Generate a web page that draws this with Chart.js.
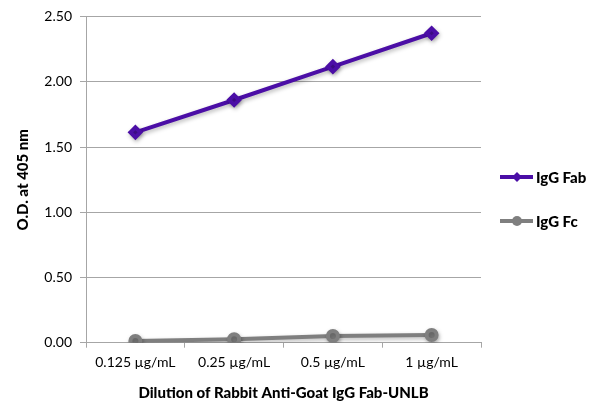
<!DOCTYPE html>
<html><head><meta charset="utf-8">
<script src="https://cdn.jsdelivr.net/npm/chart.js@4.4.0/dist/chart.umd.min.js"></script>
<style>html,body{margin:0;padding:0;background:#fff}#wrap{width:600px;height:415px;position:relative}</style>
</head><body><div id="wrap"><canvas id="c" width="600" height="415"></canvas></div>
<script>
const categories = ['0.125 µg/mL', '0.25 µg/mL', '0.5 µg/mL', '1 µg/mL'];
const fabValues = [1.613, 1.861, 2.117, 2.373];
const fcValues = [0.013, 0.026, 0.051, 0.059];
const seriesNames = ['IgG Fab', 'IgG Fc'];
const yTicks = [0, 0.5, 1.0, 1.5, 2.0, 2.5];
const FONT = "Lato, 'Open Sans', sans-serif";

const shadowPlugin = {
  id: 'lineShadow',
  beforeDatasetDraw(chart) {
    const ctx = chart.ctx;
    ctx.save();
    ctx.shadowColor = 'rgba(0,0,0,0.28)';
    ctx.shadowBlur = 4;
    ctx.shadowOffsetX = 1;
    ctx.shadowOffsetY = 2;
  },
  afterDatasetDraw(chart) { chart.ctx.restore(); }
};

const legendPlugin = {
  id: 'sideLegend',
  afterDraw(chart) {
    const ctx = chart.ctx;
    const rows = [177, 221];
    chart.data.datasets.forEach((ds, i) => {
      const y = rows[i];
      ctx.save();
      ctx.strokeStyle = ds.borderColor;
      ctx.lineWidth = 4;
      ctx.beginPath(); ctx.moveTo(500, y); ctx.lineTo(533, y); ctx.stroke();
      ctx.fillStyle = ds.borderColor;
      if (ds.pointStyle === 'rectRot') {
        ctx.beginPath(); ctx.moveTo(517, y - 5); ctx.lineTo(522, y); ctx.lineTo(517, y + 5); ctx.lineTo(512, y); ctx.closePath(); ctx.fill();
      } else {
        ctx.beginPath(); ctx.arc(517, y, 5, 0, Math.PI * 2); ctx.fill();
      }
      ctx.fillStyle = '#000';
      ctx.font = "900 15px " + FONT;
      ctx.textBaseline = 'middle';
      ctx.fillText(ds.label, 536, y + 1);
      ctx.restore();
    });
  }
};

new Chart(document.getElementById('c'), {
  type: 'line',
  data: {
    labels: categories,
    datasets: [
      { label: seriesNames[0], data: fabValues, borderColor: '#4b0ea6', backgroundColor: '#4b0ea6', borderWidth: 4, pointStyle: 'rectRot', pointRadius: 5, pointHoverRadius: 5, tension: 0 },
      { label: seriesNames[1], data: fcValues, borderColor: '#7f7f7f', backgroundColor: '#7f7f7f', borderWidth: 4, pointStyle: 'circle', pointRadius: 5, pointHoverRadius: 5, tension: 0 }
    ]
  },
  options: {
    responsive: false,
    animation: false,
    layout: { padding: { left: 0, right: 119, top: 16.7, bottom: 0 } },
    plugins: { legend: { display: false }, tooltip: { enabled: false } },
    scales: {
      x: {
        offset: true,
        grid: { display: true, drawOnChartArea: false, offset: true, tickLength: 5, color: '#a6a6a6' },
        border: { color: '#a6a6a6', width: 1 },
        ticks: { color: '#000', font: { family: FONT, size: 14 }, padding: 6 },
        title: { display: true, text: 'Dilution of Rabbit Anti-Goat IgG Fab-UNLB', color: '#000', font: { family: FONT, size: 15, weight: '900' }, padding: { top: 8, bottom: 13 } },
        afterFit(s) { s.height = 415 - 342.7; }
      },
      y: {
        min: 0, max: 2.5,
        afterBuildTicks(s) { s.ticks = yTicks.map(v => ({ value: v })); },
        grid: { color: '#a6a6a6', tickLength: 6 },
        border: { color: '#a6a6a6', width: 1 },
        ticks: { color: '#000', font: { family: FONT, size: 14 }, padding: 8, callback: v => Number(v).toFixed(2) },
        title: { display: true, text: 'O.D. at 405 nm', color: '#000', font: { family: FONT, size: 15, weight: '900' }, padding: { top: 14, bottom: 4 } },
        afterFit(s) { s.width = 86; }
      }
    }
  },
  plugins: [shadowPlugin, legendPlugin]
});
</script></body></html>
